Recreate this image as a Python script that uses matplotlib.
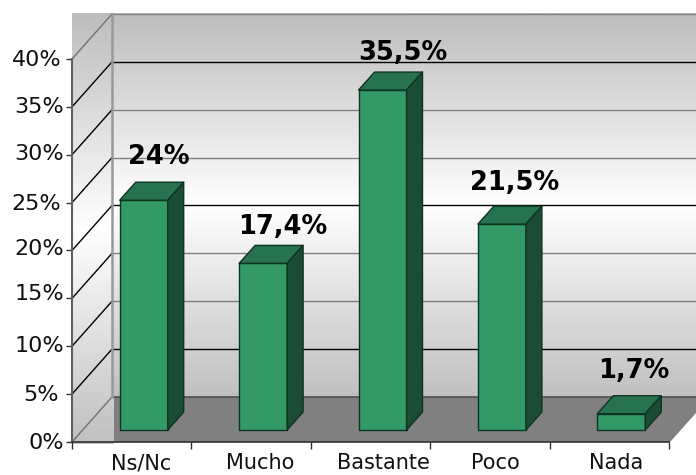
import numpy as np
import matplotlib

matplotlib.use("Agg")
import matplotlib.pyplot as plt
from matplotlib.colors import LinearSegmentedColormap
from matplotlib.patches import Polygon
from matplotlib.transforms import ScaledTranslation

categories = ["Ns/Nc", "Mucho", "Bastante", "Poco", "Nada"]
values = [24, 17.4, 35.5, 21.5, 1.7]
value_labels = ["24%", "17,4%", "35,5%", "21,5%", "1,7%"]
y_ticks = [0, 5, 10, 15, 20, 25, 30, 35, 40]

# label offsets from the bar's front top centre, in pixels
label_dx = [15, 20, 20, 13, 13]
label_dy = [43, 36, 37, 41, 43]
# the tick labels of the original sit unevenly, nudges in pixels
ytick_dx = [2, -3, 2, 2, 2, -1, 2, 2, -1]
ytick_dy = [1, 1, 2, 6, 3, 1, 3, 2, 1]
xtick_dx = [9, 9, 13, 5, 7]

# one category slot is 119.4 px wide, one percent is 9.575 px tall
PX_X = 1 / 119.4
PX_Y = 1 / 9.575
WALL_DX = 40 * PX_X
WALL_DY = 45 * PX_Y
BAR_GAP = 12
BAR_DEPTH_X = 16
BAR_DEPTH_Y = 18
BAR_W = 48 * PX_X

GREEN_FRONT = "#339966"
GREEN_TOP = "#26734D"
GREEN_SIDE = "#1A4D33"
GREEN_EDGE = "#0F3322"

wall_cmap = LinearSegmentedColormap.from_list(
    "wall", [(0, "#BDBDBD"), (0.5, "#FFFFFF"), (1, "#C0C0C0")]
)
ramp = np.linspace(0, 1, 256).reshape(-1, 1)

fig = plt.figure(figsize=(6.96, 4.75), dpi=100, facecolor="white")
ax = fig.add_axes([72 / 696, 33 / 475, 597 / 696, 383 / 475])
ax.set_xlim(-0.5, 4.5)
ax.set_ylim(0, 40)

top = 40 + WALL_DY
floor_back = WALL_DY
left_back = -0.5 + WALL_DX
right_edge = 4.5 + 27 * PX_X

# side wall, it is a plain rectangle behind the diagonals
ax.imshow(ramp, cmap=wall_cmap, vmin=0, vmax=1, aspect="auto", zorder=1,
          extent=(-0.5, left_back + 2 * PX_X, -2 * PX_Y, top), clip_on=False)
# back wall
ax.imshow(ramp, cmap=wall_cmap, vmin=0, vmax=1, aspect="auto", zorder=1,
          extent=(left_back, right_edge, floor_back, top), clip_on=False)
ax.set_xlim(-0.5, 4.5)
ax.set_ylim(0, 40)

# floor
ax.add_patch(Polygon(
    [(left_back + 2 * PX_X, floor_back), (4.5 + WALL_DX, floor_back), (4.5, 0),
     (left_back + 2 * PX_X, 0)],
    closed=True, facecolor="#808080", edgecolor="none", zorder=2, clip_on=False))
ax.plot([left_back, 4.5 + WALL_DX], [floor_back, floor_back], color="#505050", lw=1.2,
        zorder=3, clip_on=False)
ax.plot([4.5, 4.5 + WALL_DX], [0, floor_back], color="#808080", lw=1.2, zorder=3, clip_on=False)

# gridlines on the back and side walls
for tick in y_ticks[1:]:
    colour = "black" if tick in (5, 20, 35) else "#808080"
    ax.plot([left_back, right_edge], [tick + WALL_DY, tick + WALL_DY], color=colour, lw=1,
            zorder=3, clip_on=False)
for tick in y_ticks:
    colour = "#707070" if tick in (0, 40) else "black"
    ax.plot([-0.5, left_back], [tick, tick + WALL_DY], color=colour, lw=1, zorder=3, clip_on=False)
ax.plot([left_back, left_back], [floor_back, top], color="#999999", lw=1.8, zorder=3, clip_on=False)

# bars
for i, value in enumerate(values):
    x0 = i - 0.5 + 59.7 * PX_X + BAR_GAP * PX_X - BAR_W / 2
    y0 = BAR_GAP * PX_Y
    x1 = x0 + BAR_W
    y1 = y0 + value
    dx = BAR_DEPTH_X * PX_X
    dy = BAR_DEPTH_Y * PX_Y
    faces = [
        ([(x0, y0), (x1, y0), (x1, y1), (x0, y1)], GREEN_FRONT),
        ([(x0, y1), (x1, y1), (x1 + dx, y1 + dy), (x0 + dx, y1 + dy)], GREEN_TOP),
        ([(x1, y0), (x1 + dx, y0 + dy), (x1 + dx, y1 + dy), (x1, y1)], GREEN_SIDE),
    ]
    for points, colour in faces:
        ax.add_patch(Polygon(points, closed=True, facecolor=colour, edgecolor=GREEN_EDGE,
                             lw=1, zorder=4, joinstyle="round"))
    ax.text((x0 + x1) / 2 + label_dx[i] * PX_X, y1 + label_dy[i] * PX_Y, value_labels[i],
            fontsize=18.5, fontweight="bold", color="black", ha="center", va="center",
            zorder=6, clip_on=False)

ax.patch.set_visible(False)
for side in ("top", "right"):
    ax.spines[side].set_visible(False)
ax.spines["left"].set_color("#606060")
ax.spines["left"].set_linewidth(1.5)
ax.spines["left"].set_zorder(5)
ax.spines["bottom"].set_color("#303030")
ax.spines["bottom"].set_linewidth(1.2)
ax.spines["bottom"].set_zorder(5)

ax.set_yticks(y_ticks)
ax.set_yticklabels([f"{t}%" for t in y_ticks], fontsize=16, color="#111111")
ax.set_xticks(np.arange(-0.5, 5, 1))
ax.set_xticklabels([])
ax.set_xticks(range(len(categories)), minor=True)
ax.set_xticklabels(categories, minor=True, fontsize=15, color="#111111")
ax.tick_params(axis="y", length=4, width=1, color="#303030", pad=3)
ax.tick_params(axis="x", which="major", length=5, width=1, color="#303030")
ax.tick_params(axis="x", which="minor", length=0, pad=8)

for label, dx, dy in zip(ax.get_yticklabels(), ytick_dx, ytick_dy):
    label.set_transform(label.get_transform() + ScaledTranslation(dx / 100, dy / 100, fig.dpi_scale_trans))
for label, dx in zip(ax.get_xticklabels(minor=True), xtick_dx):
    label.set_transform(label.get_transform() + ScaledTranslation(dx / 100, 0, fig.dpi_scale_trans))

fig.savefig("out.png", dpi=100, facecolor="white")
plt.close(fig)
